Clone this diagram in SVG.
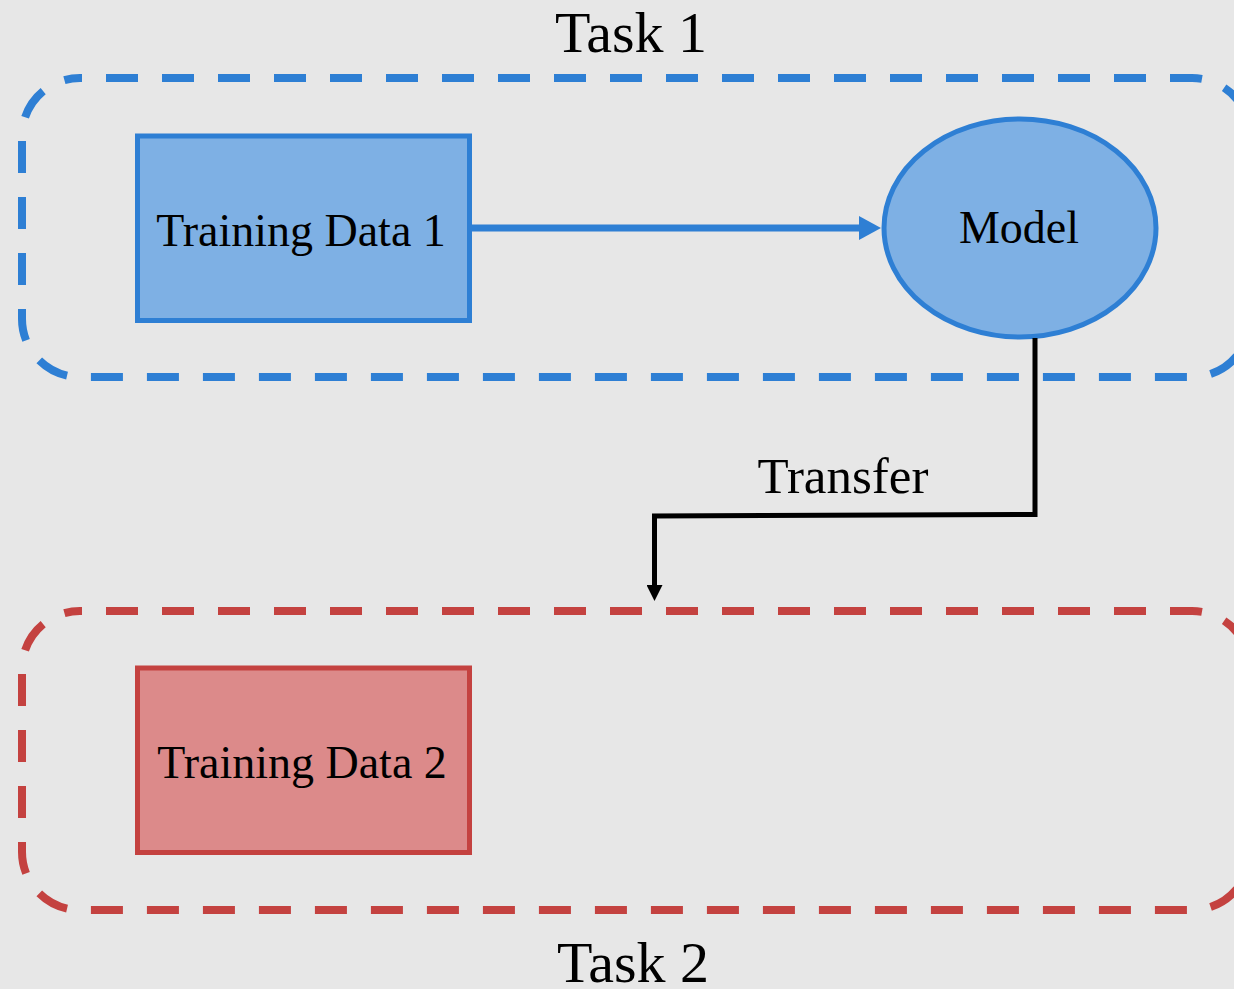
<svg xmlns="http://www.w3.org/2000/svg" width="1234" height="989" viewBox="0 0 1234 989">
  <style>
    .lbl { font-family: "Liberation Serif", "Times New Roman", serif; fill: #000; text-anchor: middle; }
    .task { font-size: 58px; }
    .node { font-size: 46px; }
    .frame { fill: none; stroke-width: 8; stroke-dasharray: 32 24; stroke-dashoffset: 30; }
    .blue-frame { stroke: #2e7fd4; }
    .red-frame { stroke: #c44240; }
    .blue-node { fill: #7eb0e4; stroke: #2e7fd4; stroke-width: 5; }
    .red-node { fill: #dc8a8a; stroke: #c44240; stroke-width: 5; }
  </style>
  <defs>
    <!-- arrowheads: refX at the base so the line stops where the head begins -->
    <marker id="headBlue" markerWidth="22" markerHeight="24" refX="0" refY="12" orient="auto" markerUnits="userSpaceOnUse">
      <path d="M0,0 L22,12 L0,24 Z" fill="#2e7fd4"/>
    </marker>
    <marker id="headBlack" markerWidth="16" markerHeight="16" refX="0" refY="8" orient="auto" markerUnits="userSpaceOnUse">
      <path d="M0,0 L16,8 L0,16 Z" fill="#000"/>
    </marker>
  </defs>

  <rect width="1234" height="989" fill="#e7e7e7"/>

  <!-- task groupings -->
  <g id="task1">
    <rect class="frame blue-frame" x="22" y="78" width="1228" height="299" rx="58" ry="58"/>
    <text class="lbl task" x="631" y="52">Task 1</text>
  </g>
  <g id="task2">
    <rect class="frame red-frame" x="22" y="611" width="1228" height="299" rx="58" ry="58"/>
    <text class="lbl task" x="633" y="982">Task 2</text>
  </g>

  <!-- nodes -->
  <g id="training-data-1">
    <rect class="blue-node" x="137.5" y="136" width="332" height="184.5"/>
    <text class="lbl node" x="301" y="246">Training Data 1</text>
  </g>
  <g id="model">
    <ellipse class="blue-node" cx="1020" cy="228" rx="136" ry="109"/>
    <text class="lbl node" x="1019" y="243">Model</text>
  </g>
  <g id="training-data-2">
    <rect class="red-node" x="137.5" y="668" width="332" height="184.5"/>
    <text class="lbl node" x="302" y="778">Training Data 2</text>
  </g>

  <!-- connectors -->
  <g id="connectors">
    <line x1="470" y1="228" x2="859" y2="228" stroke="#2e7fd4" stroke-width="7" marker-end="url(#headBlue)"/>
    <polyline points="1035,338 1035,514.5 654.5,516 654.5,585" fill="none" stroke="#000" stroke-width="5" marker-end="url(#headBlack)"/>
    <text class="lbl" x="843" y="493" font-size="51px">Transfer</text>
  </g>
</svg>
